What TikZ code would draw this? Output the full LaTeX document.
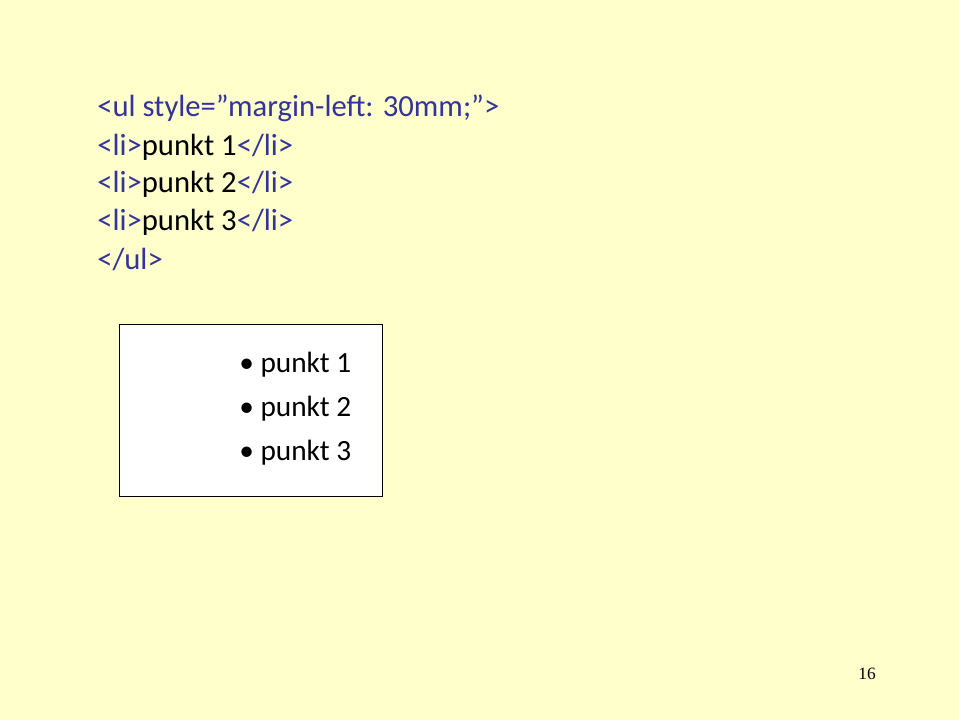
\documentclass[tikz,border=0pt]{standalone}
\usepackage{fontspec}
\setmainfont{Carlito}
\newfontfamily\numfont{Liberation Serif}
\usetikzlibrary{positioning}
\definecolor{slidebg}{RGB}{255,255,204}
\definecolor{codeblue}{RGB}{51,51,153}
\tikzset{
  codeline/.style={anchor=base west, inner sep=0pt, text=codeblue, font=\fontsize{23}{27}\selectfont},
  itemline/.style={anchor=base west, inner sep=0pt, font=\fontsize{22}{26}\selectfont}
}
\begin{document}
\begin{tikzpicture}[x=0.75pt,y=-0.75pt]
  \fill[slidebg] (0,0) rectangle (959,720);
  \useasboundingbox (0,0) rectangle (959,720);
  % html source
  \node[codeline] (ul) at (97,117) {<ul style="margin-left: 30mm;">};
  \node[codeline] (li1) at (97,156) {<li>\textcolor{black}{punkt 1}</li>};
  \node[codeline] (li2) at (97,193) {<li>\textcolor{black}{punkt 2}</li>};
  \node[codeline] (li3) at (97,231) {<li>\textcolor{black}{punkt 3}</li>};
  \node[codeline] (ulend) at (97,269) {</ul>};
  % rendered result
  \draw[fill=white, line width=0.75pt] (119,324) rectangle (382,496);
  \node[itemline] (p1) at (239,372) {\textbullet\ punkt 1};
  \node[itemline] (p2) at (239,416) {\textbullet\ punkt 2};
  \node[itemline] (p3) at (239,460) {\textbullet\ punkt 3};
  \node[anchor=base, inner sep=0pt, font=\numfont\fontsize{13}{15}\selectfont] (page) at (867,679) {16};
\end{tikzpicture}
\end{document}
